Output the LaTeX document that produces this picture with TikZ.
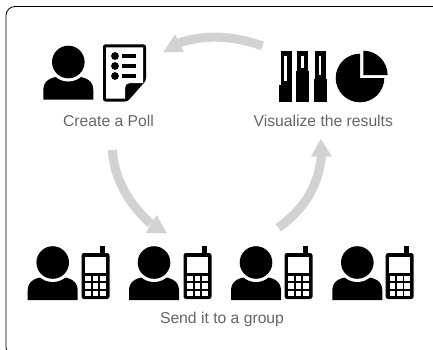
\documentclass[tikz,border=0pt]{standalone}
\usepackage{fontspec}
\setmainfont{Liberation Sans}
\definecolor{arrowgrey}{HTML}{D2D2D2}
\definecolor{labelgrey}{HTML}{666666}
\tikzset{
  x=1pt,y=-1pt,
  lbl/.style={text=labelgrey,font=\fontsize{15.7}{18}\selectfont,inner sep=0pt,anchor=base},
  flow/.style={draw=arrowgrey,line width=9pt},
  flowhead/.style={fill=arrowgrey,draw=none},
  pics/person/.style={code={
    \fill (-25,37.5) -- (-25,28) .. controls (-25,19) and (-18,15) .. (-8,14.5) -- (8,14.5) .. controls (18,15) and (25,19) .. (25,28) -- (25,37.5) -- cycle;
    \fill[white] (0,0) circle[radius=19.5pt];
    \fill (0,0) circle[radius=16.3pt];
  }},
  pics/phone/.style={code={
    \fill (18.5,-7) rectangle (23.5,2);
    \fill[rounded corners=2.5pt] (0,0) rectangle (28,46);
    \fill[white] (3.5,3.5) rectangle (24.5,19.5);
    \foreach \c in {0,1,2}{\foreach \r in {0,1,2}{
      \fill[white] (3.8+\c*7.4,23+\r*7.3) rectangle ++(5.6,5.2);
    }}
  }},
}
\begin{document}
\begin{tikzpicture}
\useasboundingbox (0,0) rectangle (433,349);
\fill[white] (0,0) rectangle (433,349);
\begin{scope}
\clip (0,0) rectangle (433,349);
\draw[black,line width=0.8pt,rounded corners=9pt] (6,6.5) rectangle (442,356);
\end{scope}

% flow arrows
\draw[flow] (262.5,46) .. controls (238,37) and (208,33) .. (179,43);
\fill[flowhead] (163.3,52.3) -- (175,34.3) -- (184,52) -- cycle;
\draw[flow] (112.3,150) .. controls (114,178) and (128,203) .. (151,224);
\fill[flowhead] (166.7,233.3) -- (156.7,215) -- (146,232.8) -- cycle;
\draw[flow] (278.3,227.7) .. controls (303,210) and (318,188) .. (321.5,156);
\fill[flowhead] (320.7,139) -- (311,156.7) -- (332,156.7) -- cycle;

% create a poll
\pic at (68.3,62) {person};
\fill[rounded corners=2.5pt] (103,44.3) -- (146,44.3) -- (146,80.5) -- (127.5,101.5) -- (103,101.5) -- cycle;
\fill[white] (106,47.3) -- (143,47.3) -- (143,83) -- (130,83) .. controls (127,83) and (125,85) .. (125,88) -- (125,98.7) -- (106,98.7) -- cycle;
\foreach \yy in {56,66,76}{
  \fill (115,\yy) circle[radius=3.9pt];
  \fill (122.3,\yy-1.7) rectangle (136,\yy+1.7);
}
\node[lbl] (poll) at (108.5,126.7) {Create a Poll};

% visualize
\fill (280.5,50.7) rectangle (291.5,85);
\fill (279.3,85) rectangle (292,101.7);
\fill (297,50.7) rectangle (308.3,71);
\fill (296,71) rectangle (308.7,101.7);
\fill (314.7,50.7) rectangle (326.3,79.3);
\fill (314,79.3) rectangle (326.7,101.7);
\fill[white] (284.3,56) rectangle (286.7,80.7);
\fill[white] (301.3,56) rectangle (303.7,68.3);
\fill[white] (319,56) rectangle (321.3,75);
\fill (360,78) -- (360,53.7) arc[start angle=90,end angle=360,radius=24.3pt] -- cycle;
\fill (363.3,75) -- (363.3,50.7) arc[start angle=90,delta angle=-90,radius=24.3pt] -- cycle;
\node[lbl] (vis) at (323.3,126.7) {Visualize the results};

% group
\foreach \px/\ph in {52.7/81.5,154/183.5,256/284.5,357.3/385.7}{
  \pic at (\px,262.5) {person};
  \pic at (\ph,253) {phone};
}
\node[lbl] (grp) at (222,323.3) {Send it to a group};
\end{tikzpicture}
\end{document}
